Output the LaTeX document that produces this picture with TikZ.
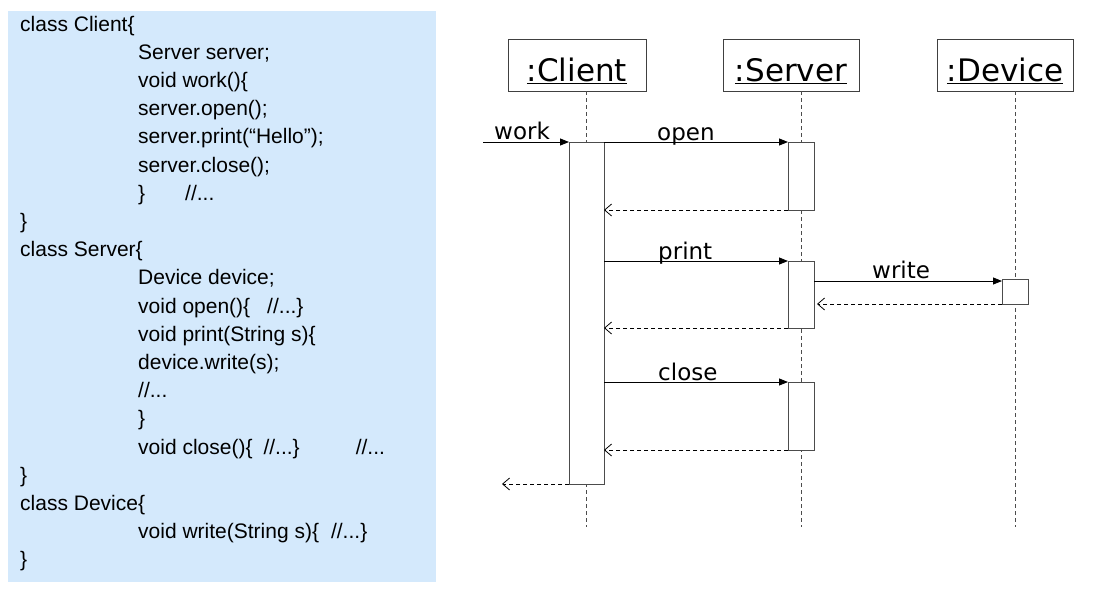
\documentclass[tikz,border=0pt]{standalone}
\usepackage{fontspec}
\setmainfont{Liberation Sans}
\newfontfamily\umlfont{DejaVu Sans}
\usepackage{tikz}
\usetikzlibrary{arrows.meta}
\definecolor{codebg}{RGB}{212,233,252}
\newcommand{\lifelabel}[1]{\vtop{\hbox{#1}\kern1.5pt\hrule height 1.2pt}}

\begin{document}
\begin{tikzpicture}[x=1pt,y=-1pt,
    codeline/.style={anchor=base west,inner sep=0pt,font=\fontsize{21}{24}\selectfont},
    objbox/.style={draw=black!75,line width=0.9pt,minimum width=136pt,minimum height=52pt,inner sep=0pt,text height=35pt,text depth=3pt,font=\umlfont\fontsize{31}{36}\selectfont},
    actbar/.style={draw=black!70,line width=0.9pt,fill=white,anchor=north,minimum width=26pt,inner sep=0pt,outer sep=0pt},
    lifeline/.style={black!70,line width=0.9pt,dash pattern=on 4pt off 3pt},
    callmsg/.style={-{Triangle[length=9pt,width=7pt]},line width=0.9pt},
    retmsg/.style={-{Straight Barb[length=7pt,width=12pt]},line width=0.8pt,dash pattern=on 4pt off 3pt},
    msglabel/.style={anchor=base west,inner sep=0pt,font=\umlfont\fontsize{23}{27}\selectfont}]
    \useasboundingbox (0,0) rectangle (1094,592);
    % Java code on the left
    \fill[codebg] (8,11) rectangle (436,582);
    \node[codeline] (l1) at (20,31) {class Client\{};
    \node[codeline] (l2) at (138,59.2) {Server server;};
    \node[codeline] (l3) at (138,87.4) {void work()\{};
    \node[codeline] (l4) at (138,115.6) {server.open();};
    \node[codeline] (l5) at (138,143.8) {server.print(“Hello”);};
    \node[codeline] (l6) at (138,172) {server.close();};
    \node[codeline] (l7) at (138,200.2) {\}\hspace{40pt}//...};
    \node[codeline] (l8) at (20,228.4) {\}};
    \node[codeline] (l9) at (20,256.6) {class Server\{};
    \node[codeline] (l10) at (138,284.8) {Device device;};
    \node[codeline] (l11) at (138,313) {void open()\{\hspace{17pt}//...\}};
    \node[codeline] (l12) at (138,341.2) {void print(String s)\{};
    \node[codeline] (l13) at (138,369.4) {device.write(s);};
    \node[codeline] (l14) at (138,397.6) {//...};
    \node[codeline] (l15) at (138,425.8) {\}};
    \node[codeline] (l16) at (138,454) {void close()\{\hspace{11pt}//...\}\hspace{56pt}//...};
    \node[codeline] (l17) at (20,482.2) {\}};
    \node[codeline] (l18) at (20,510.4) {class Device\{};
    \node[codeline] (l19) at (138,538.6) {void write(String s)\{\hspace{12pt}//...\}};
    \node[codeline] (l20) at (20,566.8) {\}};
    % objects and their lifelines
    \node[objbox,minimum width=138pt] (client) at (577,65) {\lifelabel{:Client}};
    \node[objbox] (server) at (791,65) {\lifelabel{:Server}};
    \node[objbox] (device) at (1005,65) {\lifelabel{:Device}};
    \coordinate (cend) at (586.5,527);
    \coordinate (send) at (801,527);
    \coordinate (dend) at (1015,527);
    \draw[lifeline] (cend |- client.south) -- (cend);
    \draw[lifeline] (send |- server.south) -- (send);
    \draw[lifeline] (dend |- device.south) -- (dend);
    % activation bars
    \node[actbar,minimum width=35pt,minimum height=342pt] (cact) at (586.5,142) {};
    \node[actbar,minimum height=68pt] (sact1) at (801,142) {};
    \node[actbar,minimum height=67pt] (sact2) at (801,261) {};
    \node[actbar,minimum height=68pt] (sact3) at (801,382) {};
    \node[actbar,minimum height=25pt] (dact) at (1015,279) {};
    % messages
    \coordinate (wstart) at (483,142);
    \coordinate (wend) at (502,484);
    \draw[callmsg] (wstart) -- (cact.north west);
    \draw[callmsg] (cact.north east) -- (sact1.north west);
    \draw[retmsg] (sact1.south west) -- (cact.east |- sact1.south);
    \draw[callmsg] (cact.east |- sact2.north) -- (sact2.north west);
    \draw[callmsg] ([yshift=-2pt]sact2.east |- dact.north) -- ([yshift=-2pt]dact.north west);
    \draw[retmsg] (dact.south west) -- ([xshift=3pt]sact2.east |- dact.south);
    \draw[retmsg] (sact2.south west) -- (cact.east |- sact2.south);
    \draw[callmsg] (cact.east |- sact3.north) -- (sact3.north west);
    \draw[retmsg] (sact3.south west) -- (cact.east |- sact3.south);
    \draw[retmsg] (cact.south west) -- (wend);
    % message names
    \node[msglabel] (lwork) at (494,139) {work};
    \node[msglabel] (lopen) at (657,140) {open};
    \node[msglabel] (lprint) at (658,259) {print};
    \node[msglabel] (lwrite) at (872,278) {write};
    \node[msglabel] (lclose) at (658,380) {close};
\end{tikzpicture}
\end{document}
